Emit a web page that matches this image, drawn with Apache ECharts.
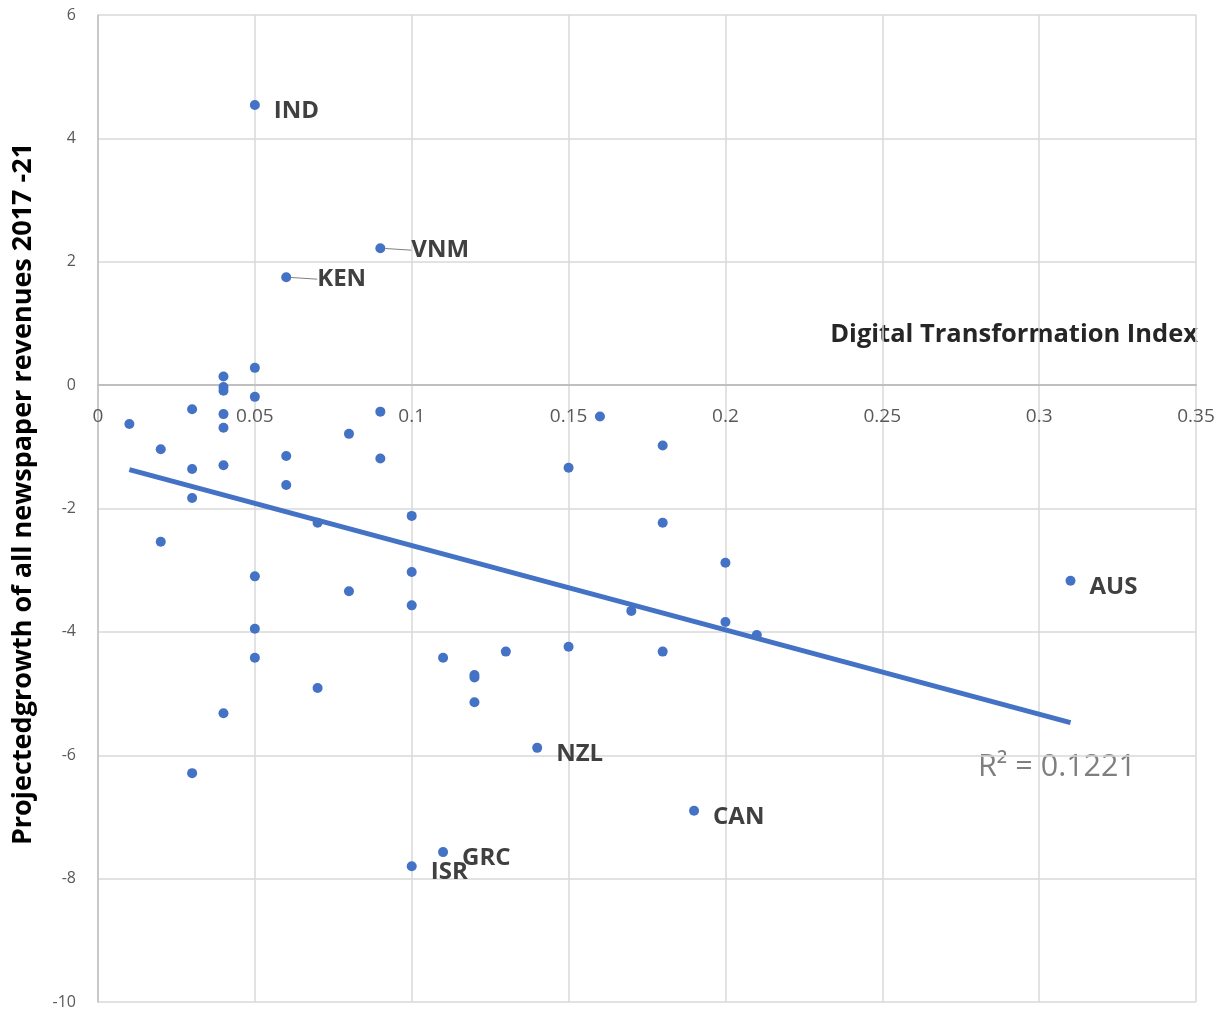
<!DOCTYPE html>
<html>
<head>
<meta charset="utf-8">
<script src="https://cdn.jsdelivr.net/npm/echarts@6/dist/echarts.min.js"></script>
<style>html,body{margin:0;padding:0;background:#fff}#c{width:1220px;height:1013px}</style>
</head>
<body>
<div id="c"></div>
<script>
const xs = [0.01,0.02,0.02,0.03,0.03,0.03,0.03,0.04,0.04,0.04,0.04,0.04,0.04,0.04,0.05,0.05,0.05,0.05,0.05,0.05,0.06,0.06,0.06,0.07,0.07,0.08,0.08,0.09,0.09,0.09,0.10,0.10,0.10,0.10,0.11,0.11,0.12,0.12,0.12,0.13,0.14,0.15,0.15,0.16,0.17,0.18,0.18,0.18,0.19,0.20,0.20,0.21,0.31];
const ys = [-0.63,-1.04,-2.54,-0.39,-1.36,-1.83,-6.29,0.14,-0.03,-0.09,-0.47,-0.69,-1.30,-5.32,4.54,0.28,-0.19,-3.10,-3.95,-4.42,1.75,-1.15,-1.62,-2.23,-4.91,-0.79,-3.34,2.22,-0.43,-1.19,-7.80,-2.12,-3.03,-3.57,-7.57,-4.42,-4.70,-4.74,-5.14,-4.32,-5.88,-1.34,-4.24,-0.51,-3.66,-0.98,-2.23,-4.32,-6.90,-2.88,-3.84,-4.05,-3.17];
const names = ['','','','','','','','','','','','','','','IND','','','','','','KEN','','','','','','','VNM','','','ISR','','','','GRC','','','','','','NZL','','','','','','','','CAN','','','','AUS'];
const leaderNames = ['VNM','KEN'];
const trendX = [0.01, 0.31];
const trendY = [-1.37, -5.47];
const xTicks = [0,0.05,0.1,0.15,0.2,0.25,0.3,0.35];
const yTicks = [-10,-8,-6,-4,-2,0,2,4,6];
const xTitle = 'Digital Transformation Index';
const yTitle = 'Projectedgrowth of all newspaper revenues 2017 -21';
const r2Text = 'R² = 0.1221';

const blue = '#4472C4';
const gridTop = 15, gridBottom = 11, H = 1013;
const plotH = H - gridTop - gridBottom;
const yMin = -10, yMax = 6;
const zeroOffset = plotH * (0 - yMin) / (yMax - yMin);

const pts = xs.map((x,i)=>{
  const it = {value:[x,ys[i]], name:names[i]};
  if (leaderNames.indexOf(names[i])>=0) it.labelLine = {show:true, lineStyle:{color:'#7f7f7f',width:1}};
  return it;
});
const chart = echarts.init(document.getElementById('c'));
chart.setOption({
  animation:false,
  grid:{left:98,right:24,top:gridTop,bottom:gridBottom,containLabel:false,outerBoundsMode:'none'},
  xAxis:{type:'value',min:0,max:0.35,interval:0.05,position:'bottom',offset:-zeroOffset,
    axisLine:{show:true,onZero:false,lineStyle:{color:'#bfbfbf',width:2}},
    axisTick:{show:false},
    splitLine:{show:true,lineStyle:{color:'#d9d9d9',width:1.5}},
    axisLabel:{color:'#595959',fontSize:19,fontFamily:'Open Sans',margin:22,
      formatter:v=>{const t=xTicks.find(k=>Math.abs(k-v)<1e-9);return t===undefined?'':String(t);}}
  },
  yAxis:{type:'value',min:yMin,max:yMax,interval:2,
    axisLine:{show:true,onZero:false,lineStyle:{color:'#bfbfbf',width:1.5}},
    axisTick:{show:false},
    splitLine:{show:true,lineStyle:{color:'#d9d9d9',width:1.5}},
    axisLabel:{color:'#595959',fontSize:16,fontFamily:'Open Sans',margin:22,
      formatter:v=>{const t=yTicks.find(k=>Math.abs(k-v)<1e-9);return t===undefined?'':String(t);}}
  },
  series:[
    {type:'line',data:trendX.map((x,i)=>[x,trendY[i]]),symbol:'none',
      lineStyle:{color:blue,width:5},z:3},
    {type:'scatter',data:pts,symbolSize:10,itemStyle:{color:blue,opacity:1},z:4,
      label:{show:true,position:'right',distance:14,
        formatter:p=>p.data.name,color:'#404040',fontSize:24,fontWeight:'bold',fontFamily:'Open Sans'},
      labelLine:{show:false},
      labelLayout:p=>{const n=names[p.dataIndex];return leaderNames.indexOf(n)>=0?{dx:12,dy:2}:{dy:6};}
    }
  ],
  graphic:[
    {type:'text',right:22,top:322,style:{text:xTitle,fill:'#262626',fontSize:25.5,fontWeight:'bold',fontFamily:'Open Sans'}},
    {type:'text',x:23,y:494,rotation:Math.PI/2,style:{text:yTitle,fill:'#000',fontSize:27,fontWeight:'bold',fontFamily:'Open Sans',align:'center',verticalAlign:'middle'}},
    {type:'text',left:978,top:752,style:{text:r2Text,fill:'#7f7f7f',fontSize:30.5,fontFamily:'Open Sans'}}
  ]
});
</script>
</body>
</html>
